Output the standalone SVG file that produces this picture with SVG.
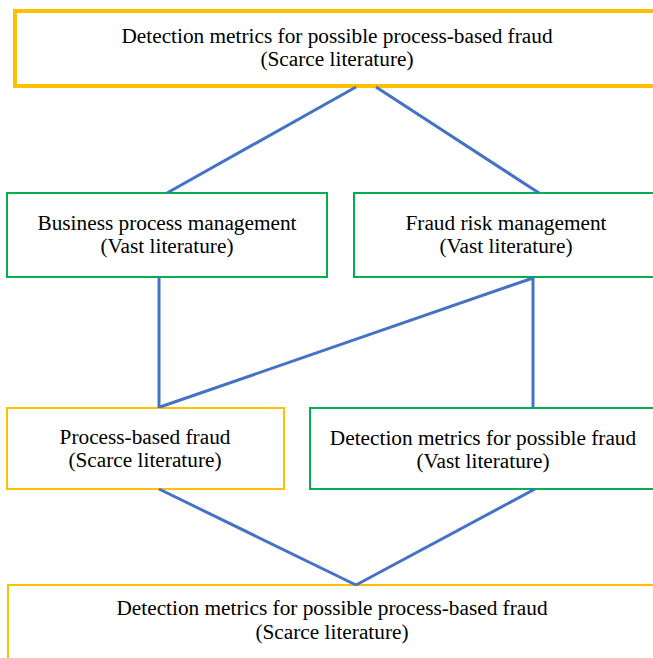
<svg xmlns="http://www.w3.org/2000/svg" width="653" height="658" viewBox="0 0 653 658">
<style>
.t{font-family:'Liberation Serif','Times New Roman','DejaVu Serif',serif;font-size:21.3px;fill:#000;text-anchor:middle}
.o{fill:#fff;stroke:#FFC000}
.g{fill:#fff;stroke:#00B050;stroke-width:2}
.c line{stroke:#4472C4;stroke-width:3;stroke-linecap:butt}
</style>
<rect width="653" height="658" fill="#fff"/>
<g id="n1"><rect class="o" x="15" y="11" width="660" height="75" stroke-width="4"/>
<text class="t" x="337" y="43">Detection metrics for possible process-based fraud</text>
<text class="t" x="337" y="66">(Scarce literature)</text></g>
<g id="n2"><rect class="g" x="7" y="193" width="320" height="84"/>
<text class="t" x="167" y="230">Business process management</text>
<text class="t" x="167" y="253">(Vast literature)</text></g>
<g id="n3"><rect class="g" x="354" y="193" width="320" height="84"/>
<text class="t" x="506" y="230">Fraud risk management</text>
<text class="t" x="506" y="253">(Vast literature)</text></g>
<g id="n4"><rect class="o" x="7" y="408" width="277" height="81" stroke-width="2"/>
<text class="t" x="145" y="444">Process-based fraud</text>
<text class="t" x="145" y="467">(Scarce literature)</text></g>
<g id="n5"><rect class="g" x="310" y="408" width="360" height="81"/>
<text class="t" x="483" y="445">Detection metrics for possible fraud</text>
<text class="t" x="483" y="468">(Vast literature)</text></g>
<g id="n6"><rect class="o" x="8" y="585" width="680" height="80" stroke-width="2"/>
<text class="t" x="332" y="615">Detection metrics for possible process-based fraud</text>
<text class="t" x="332" y="639">(Scarce literature)</text></g>
<g class="c" id="connectors">
<line x1="356" y1="87" x2="167" y2="193"/>
<line x1="376" y1="87" x2="539" y2="193"/>
<line x1="159" y1="277" x2="159" y2="408"/>
<line x1="533" y1="277" x2="533" y2="408"/>
<line x1="533" y1="278" x2="160" y2="407"/>
<line x1="159" y1="489" x2="356" y2="585"/>
<line x1="535" y1="489" x2="356" y2="585"/>
</g>
</svg>
